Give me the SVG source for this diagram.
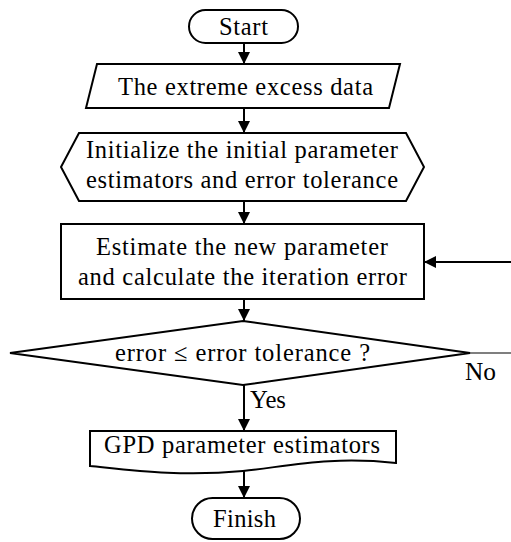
<svg xmlns="http://www.w3.org/2000/svg" width="511" height="542" viewBox="0 0 511 542">
<style>
.s{fill:#fff;stroke:#000;stroke-width:2}
.t{font-family:'Liberation Serif','Times New Roman',serif;font-size:24.5px;fill:#000;text-anchor:middle}
.l{font-family:'Liberation Serif','Times New Roman',serif;font-size:24.5px;fill:#000}
.c{fill:none;stroke:#000;stroke-width:2}
</style>
<defs>
<marker id="ah" markerWidth="12" markerHeight="12" viewBox="0 0 12 12" refX="12" refY="6" orient="auto" markerUnits="userSpaceOnUse">
<path d="M0,0 L12,6 L0,12 Z" fill="#000"/>
</marker>
</defs>
<rect width="511" height="542" fill="#fff"/>
<g id="connectors">
<line class="c" x1="244" y1="43" x2="244" y2="64" marker-end="url(#ah)"/>
<line class="c" x1="244" y1="108" x2="244" y2="133" marker-end="url(#ah)"/>
<line class="c" x1="244" y1="201" x2="244" y2="224" marker-end="url(#ah)"/>
<line class="c" x1="244" y1="299" x2="244" y2="321" marker-end="url(#ah)"/>
<line class="c" x1="244" y1="385" x2="244" y2="431" marker-end="url(#ah)"/>
<line class="c" x1="244" y1="471" x2="244" y2="498" marker-end="url(#ah)"/>
<line class="c" x1="511" y1="262" x2="424" y2="262" marker-end="url(#ah)"/>
<line x1="470" y1="353" x2="511" y2="353" stroke="#000" stroke-width="1.2"/>
<text class="l" x="250" y="408" textLength="36" lengthAdjust="spacingAndGlyphs">Yes</text>
<text class="l" x="465" y="380" textLength="31" lengthAdjust="spacingAndGlyphs">No</text>
</g>
<g id="start">
<rect class="s" x="189" y="10" width="109" height="33" rx="16.5"/>
<text class="t" x="243.5" y="35" textLength="49" lengthAdjust="spacing">Start</text>
</g>
<g id="data">
<polygon class="s" points="97,64 400,64 389,108 86,108"/>
<text class="t" x="245.5" y="95" textLength="255" lengthAdjust="spacing">The extreme excess data</text>
</g>
<g id="init">
<polygon class="s" points="79,133 406,133 424,167 406,201 79,201 61,167"/>
<text class="t" x="242" y="158" textLength="312" lengthAdjust="spacing">Initialize the initial parameter</text>
<text class="t" x="242" y="188" textLength="312" lengthAdjust="spacing">estimators and error tolerance</text>
</g>
<g id="estimate">
<rect class="s" x="61" y="224" width="363" height="75"/>
<text class="t" x="242" y="255" textLength="292" lengthAdjust="spacing">Estimate the new parameter</text>
<text class="t" x="242.5" y="285" textLength="329" lengthAdjust="spacing">and calculate the iteration error</text>
</g>
<g id="decision">
<polygon class="s" points="243,321 470,353 243,385 10,353"/>
<text class="t" x="242.5" y="361" textLength="255" lengthAdjust="spacing">error ≤ error tolerance ?</text>
</g>
<g id="gpd">
<path class="s" d="M90,431 H396 V463 C330,456 290,466 243,471 C180,477 130,470 90,466 Z"/>
<text class="t" x="242" y="453" textLength="276" lengthAdjust="spacing">GPD parameter estimators</text>
</g>
<g id="finish">
<rect class="s" x="192" y="498" width="108" height="41" rx="20.5"/>
<text class="t" x="244.5" y="527" textLength="63" lengthAdjust="spacing">Finish</text>
</g>
</svg>
